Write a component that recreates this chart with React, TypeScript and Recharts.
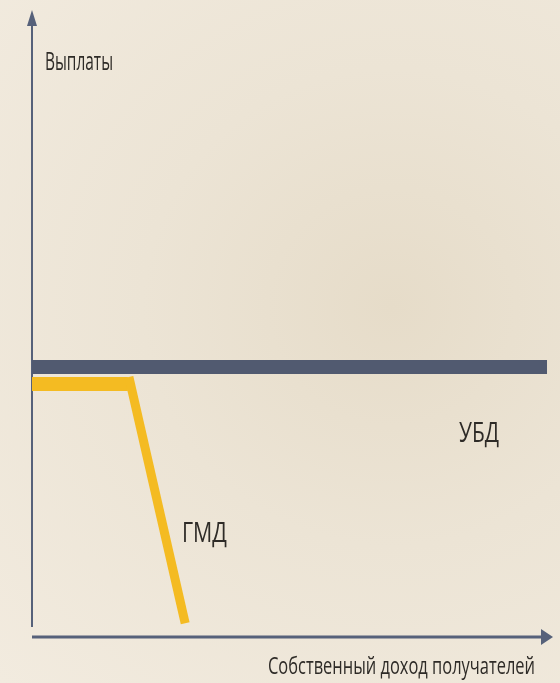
import React from "react";
import { LineChart, Line, XAxis, YAxis, ReferenceLine } from "recharts";

// units: 0..100 on both axes (schematic chart, no ticks)
const ubdX = [0, 98.85];
const ubdY = [43.06, 43.06];
const gmdFlatX = [0, 18.4];
const gmdFlatY = [40.35, 40.35];
const gmdDropX = [18.6, 29.4];
const gmdDropY = [41.45, 2.2];

const ubd = ubdX.map((x, i) => ({ x, y: ubdY[i] }));
const gmdFlat = gmdFlatX.map((x, i) => ({ x, y: gmdFlatY[i] }));
const gmdDrop = gmdDropX.map((x, i) => ({ x, y: gmdDropY[i] }));

const AXIS = "#56617a";
const FONT = "'Open Sans', 'Liberation Sans', sans-serif";
const SX = 0.62; // condensed look

function ArrowAxis(props: any) {
  const { x1, y1, x2, y2, dir } = props;
  const p =
    dir === "up"
      ? `${x2 - 5},${y2 + 16} ${x2 + 5},${y2 + 16} ${x2},${y2}`
      : `${x2 - 12},${y2 - 8} ${x2 - 12},${y2 + 8} ${x2},${y2}`;
  const ex = dir === "up" ? x2 : x2 - 10;
  const ey = dir === "up" ? y2 + 14 : y2;
  return (
    <g>
      <line x1={x1} y1={y1} x2={ex} y2={ey} stroke={AXIS} strokeWidth={dir === "up" ? 2 : 3} />
      <polygon points={p} fill={AXIS} />
    </g>
  );
}

function Narrow({ x, y, w, size, children }: any) {
  return (
    <text
      transform={`translate(${x},${y}) scale(${SX},1)`}
      fontSize={size}
      textLength={w / SX}
      lengthAdjust="spacingAndGlyphs"
    >
      {children}
    </text>
  );
}

export default function App() {
  return (
    <div
      style={{
        position: "fixed",
        left: 0,
        top: 0,
        width: 560,
        height: 683,
        overflow: "hidden",
        background:
          "radial-gradient(ellipse at 70% 45%, #e6dcc9 0%, #ece4d5 45%, #f2ebdf 100%)",
      }}
    >
      <LineChart
        width={560}
        height={683}
        margin={{ top: 10, right: 7, bottom: 46, left: 32 }}
      >
        <XAxis type="number" dataKey="x" domain={[0, 100]} hide />
        <YAxis type="number" dataKey="y" domain={[0, 100]} hide />
        <ReferenceLine
          segment={[{ x: 0, y: 1.6 }, { x: 0, y: 100 }]}
          shape={(p: any) => <ArrowAxis {...p} dir="up" />}
        />
        <ReferenceLine
          segment={[{ x: 0, y: 0 }, { x: 100, y: 0 }]}
          shape={(p: any) => <ArrowAxis {...p} dir="right" />}
        />
        <Line
          data={ubd}
          dataKey="y"
          type="linear"
          stroke="#515a70"
          strokeWidth={14}
          strokeLinecap="butt"
          dot={false}
          activeDot={false}
          isAnimationActive={false}
        />
        <Line
          data={gmdFlat}
          dataKey="y"
          type="linear"
          stroke="#f4bb22"
          strokeWidth={14}
          strokeLinecap="butt"
          dot={false}
          activeDot={false}
          isAnimationActive={false}
        />
        <Line
          data={gmdDrop}
          dataKey="y"
          type="linear"
          stroke="#f4bb22"
          strokeWidth={9}
          strokeLinecap="butt"
          dot={false}
          activeDot={false}
          isAnimationActive={false}
        />
      </LineChart>
      <svg
        width={560}
        height={683}
        style={{ position: "absolute", left: 0, top: 0, pointerEvents: "none" }}
        fontFamily={FONT}
        fill="#2e2b27"
      >
        <Narrow x={45} y={70} w={68} size={26}>Выплаты</Narrow>
        <Narrow x={459} y={442} w={40} size={27}>УБД</Narrow>
        <Narrow x={182} y={542} w={45} size={27}>ГМД</Narrow>
        <Narrow x={268} y={674} w={267} size={24}>Собственный доход получателей</Narrow>
      </svg>
    </div>
  );
}
